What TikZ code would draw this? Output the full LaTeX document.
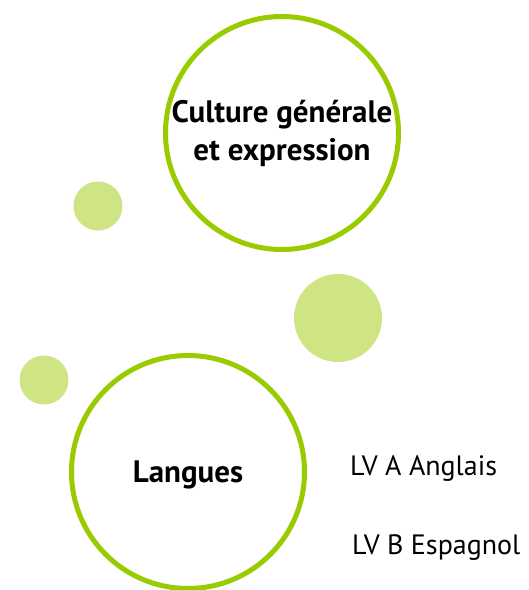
\documentclass[tikz,border=0pt]{standalone}
\usepackage{fontspec}
\setmainfont{PT Sans}
\usepackage{tikz}
\definecolor{ringgreen}{HTML}{99CC00}
\definecolor{dotgreen}{HTML}{CFE584}
\tikzset{
  ring/.style={circle, draw=ringgreen, line width=5pt, fill=white, minimum size=233pt, inner sep=0pt, align=center, font=\bfseries\fontsize{31}{38}\selectfont},
  dot/.style={circle, fill=dotgreen, inner sep=0pt},
  item/.style={anchor=west, inner sep=0pt, font=\fontsize{28}{30}\selectfont}
}

\begin{document}
\begin{tikzpicture}[x=1pt, y=-1pt]
\useasboundingbox (0,0) rectangle (529,590);
\node[dot, minimum size=49pt] (dot1) at (98,206) {};
\node[dot, minimum size=88pt] (dot2) at (338,318) {};
\node[dot, minimum size=49pt] (dot3) at (44,380) {};

\node[ring] (culture) at (282,133) {Culture générale\\et expression};
\node[ring, text depth=0pt] (langues) at (188,472) {Langues};

\node[item] (lva) at (350,469) {LV A Anglais};
\node[item] (lvb) at (352,548) {LV B Espagnol};
\end{tikzpicture}
\end{document}
